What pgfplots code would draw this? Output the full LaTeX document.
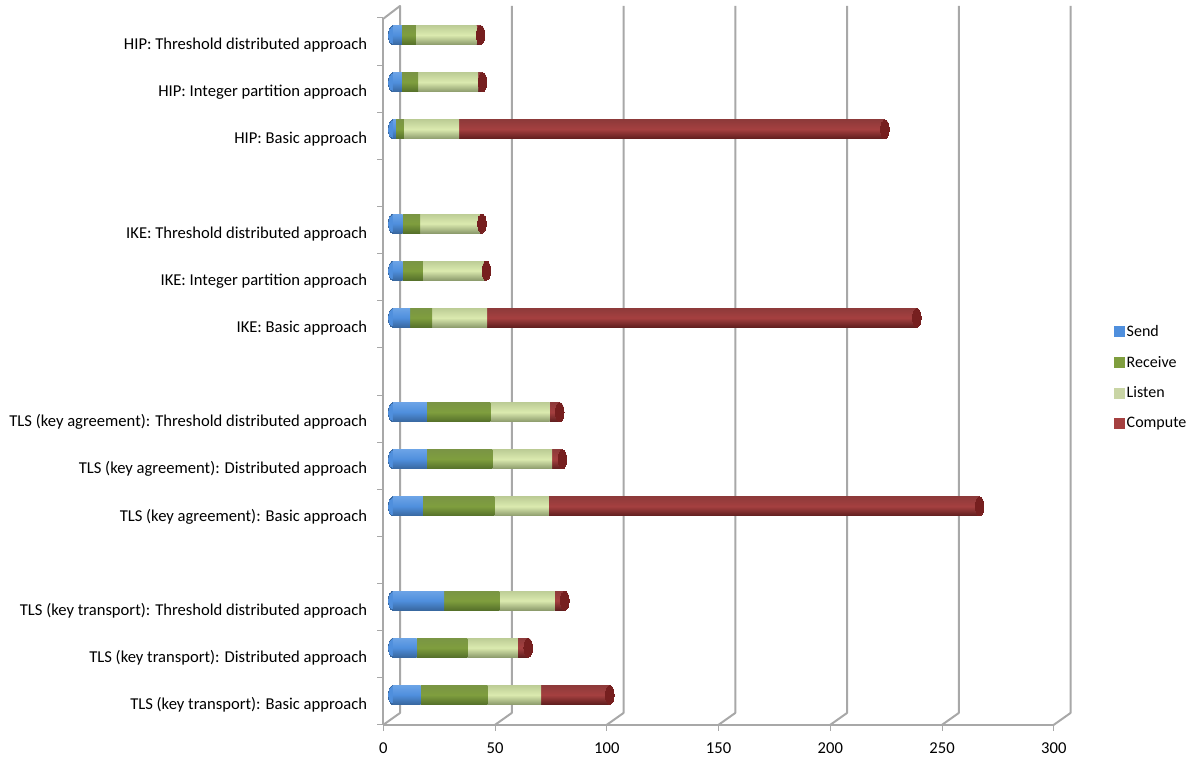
\documentclass[border=0pt]{standalone}
\usepackage{fontspec}
\setmainfont{Carlito}
\usepackage{pgfplots}
\usepackage{pgfplotstable}
\pgfplotsset{compat=1.18}

\definecolor{gridc}{HTML}{A8A8A8}
\definecolor{sendc}{HTML}{4F8FDD}
\definecolor{sendt}{HTML}{6BA3E6}
\definecolor{sendb}{HTML}{38679F}
\definecolor{recvc}{HTML}{7F9E3E}
\definecolor{recvt}{HTML}{7A9544}
\definecolor{recvb}{HTML}{55702A}
\definecolor{lstnc}{HTML}{DBEAAF}
\definecolor{lstnt}{HTML}{BDCD96}
\definecolor{lstnb}{HTML}{8C9B6C}
\definecolor{compc}{HTML}{A54040}
\definecolor{compt}{HTML}{8E3A3A}
\definecolor{compb}{HTML}{5F1E1E}
\definecolor{capc}{HTML}{761F1F}

% send receive listen compute, then where the bar ends
\pgfplotstableread{
cat send recv listen comp total start
0.5  12.5 29.9 24.0 30.7  97.1 0
1.5  10.7 22.7 22.6  4.6  60.6 0
2.5  23.0 24.7 24.7  4.6  77.0 0
4.5  13.4 32.0 24.4 192.8 262.6 0
5.5  15.2 29.3 26.8  4.6  75.9 0
6.5  15.2 28.4 26.6  4.5  74.7 0
8.5   7.7  9.9 24.6 192.3 234.5 0
9.5   4.4  9.1 27.4  1.0  41.9 0
10.5  4.4  7.8 26.9  0.8  39.9 0
12.5  1.4  3.6 24.7 190.5 220.2 0
13.5  4.1  7.2 26.9  2.0  40.2 0
14.5  4.1  6.2 27.1  1.9  39.3 0
}\bardata

\pgfplotsset{
  base/.style={scale only axis, width=670.5pt, height=707pt,
    anchor=south west, xmin=0, xmax=300, ymin=0, ymax=15, clip=false},
  hidden/.style={base, axis lines=none, ticks=none},
}

\begin{document}
\begin{tikzpicture}[x=1pt,y=1pt]
\path[use as bounding box] (0,0) rectangle (1200,762);

% back wall: grid lines and the corner lines to the front axes
\begin{axis}[hidden, at={(400pt,49pt)}, unbounded coords=jump]
\addplot[gridc, line width=2pt, line join=round] table {
x y
-7.6 -0.255
0 0
0 15
-7.6 14.725
nan nan
42.4 -0.255
50 0
50 15
nan nan
92.4 -0.255
100 0
100 15
nan nan
142.4 -0.255
150 0
150 15
nan nan
192.4 -0.255
200 0
200 15
nan nan
242.4 -0.255
250 0
250 15
nan nan
292.4 -0.255
300 0
300 15
};
\end{axis}

% front axes, labels and legend
\begin{axis}[base, at={(383.3pt,37pt)},
  axis x line*=bottom, axis y line*=left, axis line style={gridc, line width=1.6pt, -},
  xtick={0,50,100,150,200,250,300},
  ytick={0.5,1.5,...,14.5}, minor ytick={0,1,...,15},
  yticklabels={TLS (key transport): Basic approach,
    TLS (key transport): Distributed approach,
    TLS (key transport): Threshold distributed approach,
    {},
    TLS (key agreement): Basic approach,
    TLS (key agreement): Distributed approach,
    TLS (key agreement): Threshold distributed approach,
    {},
    IKE: Basic approach,
    IKE: Integer partition approach,
    IKE: Threshold distributed approach,
    {},
    HIP: Basic approach,
    HIP: Integer partition approach,
    HIP: Threshold distributed approach},
  tick align=outside, major tick length=6pt, minor tick length=6pt,
  tick style={gridc, line width=1pt}, every major y tick/.style={draw=none},
  /pgf/number format/assume math mode=true,
  tick label style={font=\fontsize{16.6}{19}\selectfont, black},
  yticklabel style={inner sep=0pt, xshift=-10pt, yshift=-3.5pt},
  xticklabel style={inner sep=0pt, yshift=-12pt},
  legend style={at={(1.09,0.492)}, anchor=west, draw=none, fill=none,
    font=\fontsize{16}{19}\selectfont, row sep=14pt, inner sep=0pt,
    /tikz/every even column/.append style={column sep=6pt}},
  legend cell align=left,
  legend image code/.code={\fill[#1] (0pt,-5pt) rectangle (10pt,5pt);}]
\addlegendimage{sendc}\addlegendentry{Send}
\addlegendimage{recvc}\addlegendentry{Receive}
\addlegendimage{lstnc!80!gray}\addlegendentry{Listen}
\addlegendimage{compc}\addlegendentry{Compute}
\end{axis}

% rounded start of the cylinders, under the bars
\begin{axis}[hidden, at={(392.8pt,43.5pt)}]
\addplot[only marks, mark=*, mark size=9.5pt,
  mark options={draw=sendb, fill=sendb, line width=0pt, xscale=0.45}]
  table[x=start,y=cat] {\bardata};
\addplot[only marks, mark=*, mark size=8pt,
  mark options={draw=sendc, fill=sendc, line width=0pt, xscale=0.5}]
  table[x=start,y=cat] {\bardata};
\end{axis}

% cylinders, one axis per row so each bar gets its own shading
\foreach \c in {0.5,1.5,2.5,4.5,5.5,6.5,8.5,9.5,10.5,12.5,13.5,14.5} {
\begin{axis}[hidden, at={(392.8pt,43.5pt)}, xbar stacked, bar width=19pt,
  restrict y to domain=\c:\c]
\addplot[draw=none, top color=sendt, bottom color=sendb, middle color=sendc] table[x=send,y=cat] {\bardata};
\addplot[draw=none, top color=recvt, bottom color=recvb, middle color=recvc] table[x=recv,y=cat] {\bardata};
\addplot[draw=none, top color=lstnt, bottom color=lstnb, middle color=lstnc] table[x=listen,y=cat] {\bardata};
\addplot[draw=none, top color=compt, bottom color=compb, middle color=compc] table[x=comp,y=cat] {\bardata};
\end{axis}
}

% far end of the cylinders
\begin{axis}[hidden, at={(392.8pt,43.5pt)}]
\addplot[only marks, mark=*, mark size=9.5pt,
  mark options={draw=capc, fill=capc, line width=0pt, xscale=0.45}]
  table[x=total,y=cat] {\bardata};
\end{axis}
\end{tikzpicture}
\end{document}
